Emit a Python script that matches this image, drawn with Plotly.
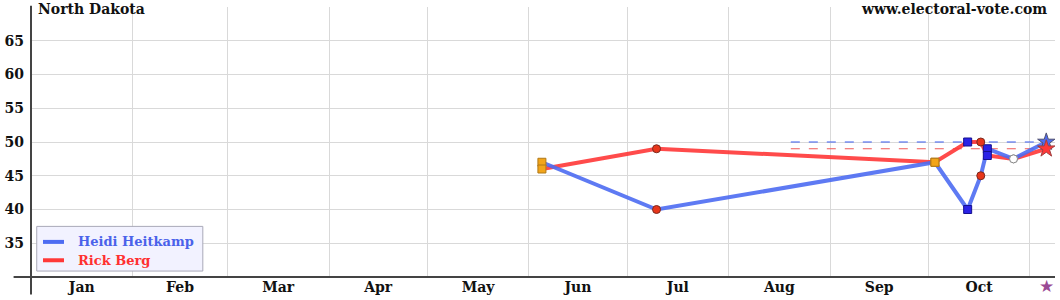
import plotly.graph_objects as go

# ---- data ----
poll_dates = ["2012-06-05", "2012-07-10", "2012-10-03", "2012-10-13",
              "2012-10-17", "2012-10-19", "2012-10-27"]
heitkamp = [47, 40, 47, 40, 45, 49, 47.5]
berg = [46, 49, 47, 50, 50, 48, 47.5]
poll_kind = ["tie", "berg", "tie", "heit", "berg", "heit", "even"]

candidates = ["Heidi Heitkamp", "Rick Berg"]

election_date = "2012-11-06"
result_heitkamp = 50
result_berg = 49
ref_start = "2012-08-20"

x_range = ["2012-01-01", "2012-11-08 16:00"]
y_range = [30, 70]

BLUE = "#4d6cf2"
RED = "#ff3838"
FONT = "DejaVu Serif"

kind_fill = {"tie": "#f2a51a", "berg": "#e8361a", "heit": "#2a22e6", "even": "#ffffff"}
kind_line = {"tie": "#b07818", "berg": "#7a2a20", "heit": "#141090", "even": "#8a8a8a"}
kind_sym = {"tie": "square", "berg": "circle", "heit": "square", "even": "circle"}

fig = go.Figure()

# reference (final result) dashed lines
fig.add_trace(go.Scatter(x=[ref_start, election_date], y=[result_heitkamp] * 2,
                         mode="lines", line=dict(color="#3a5cf0", width=1.2, dash="dash"),
                         showlegend=False, hoverinfo="skip"))
fig.add_trace(go.Scatter(x=[ref_start, election_date], y=[result_berg] * 2,
                         mode="lines", line=dict(color="#f05a5a", width=1.2, dash="dash"),
                         showlegend=False, hoverinfo="skip"))

# candidate lines
fig.add_trace(go.Scatter(x=poll_dates + [election_date], y=berg + [result_berg],
                         mode="lines", line=dict(color=RED, width=4), opacity=0.9,
                         name=candidates[1], showlegend=False))
fig.add_trace(go.Scatter(x=poll_dates + [election_date], y=heitkamp + [result_heitkamp],
                         mode="lines", line=dict(color=BLUE, width=4), opacity=0.9,
                         name=candidates[0], showlegend=False))

# poll markers
for series in (heitkamp, berg):
    fig.add_trace(go.Scatter(
        x=poll_dates, y=series, mode="markers", showlegend=False, hoverinfo="skip",
        marker=dict(size=8,
                    symbol=[kind_sym[k] for k in poll_kind],
                    color=[kind_fill[k] for k in poll_kind],
                    line=dict(color=[kind_line[k] for k in poll_kind], width=1))))

# election result stars
fig.add_trace(go.Scatter(x=[election_date], y=[result_heitkamp], mode="markers",
                         showlegend=False, hoverinfo="skip",
                         marker=dict(symbol="star", size=13, color=BLUE,
                                     line=dict(color="#505070", width=1))))
fig.add_trace(go.Scatter(x=[election_date], y=[result_berg], mode="markers",
                         showlegend=False, hoverinfo="skip",
                         marker=dict(symbol="star", size=13, color=RED,
                                     line=dict(color="#a04040", width=1))))

# election day star under axis
fig.add_annotation(x=election_date, y=-0.034, xref="x", yref="paper", text="★",
                   showarrow=False, font=dict(family=FONT, size=17, color="#9a4a94"),
                   yanchor="middle")

# frame lines
fig.add_shape(type="line", xref="paper", yref="paper", x0=-0.017, x1=1, y0=0, y1=0,
              line=dict(color="#444444", width=2))
fig.add_shape(type="line", xref="paper", yref="paper", x0=0, x1=0, y0=-0.065, y1=1.005,
              line=dict(color="#444444", width=2))

# custom legend
fig.add_shape(type="rect", xref="paper", yref="paper", x0=0.0056, x1=0.1678,
              y0=0.022, y1=0.1875, fillcolor="#f2f2ff",
              line=dict(color="#a8a8b8", width=1), layer="above")
legend_rows = [(candidates[0], BLUE, "#4a62ea", 0.13), (candidates[1], RED, "#ff3030", 0.062)]
for label, lcol, tcol, yy in legend_rows:
    fig.add_shape(type="line", xref="paper", yref="paper", x0=0.0117, x1=0.0322,
                  y0=yy, y1=yy, line=dict(color=lcol, width=4), layer="above")
    fig.add_annotation(x=0.0435, y=yy, xref="paper", yref="paper", text=f"<b>{label}</b>",
                       showarrow=False, xanchor="left", yanchor="middle",
                       font=dict(family=FONT, size=13, color=tcol))

fig.add_annotation(x=0.005, y=1.03, xref="paper", yref="paper", text="<b>North Dakota</b>",
                   showarrow=False, xanchor="left", yanchor="top",
                   font=dict(family=FONT, size=14, color="#111111"))
fig.add_annotation(x=0.994, y=1.03, xref="paper", yref="paper",
                   text="<b>www.electoral-vote.com</b>",
                   showarrow=False, xanchor="right", yanchor="top",
                   font=dict(family=FONT, size=14, color="#111111"))

fig.update_layout(
    width=1060, height=300,
    margin=dict(l=30, r=5, t=7, b=21),
    plot_bgcolor="white", paper_bgcolor="white",
    font=dict(family=FONT, size=14, color="#111111"),
    showlegend=False,
    xaxis=dict(type="date", range=x_range, dtick="M1", tick0="2012-01-01",
               tickformat="%b", ticklabelmode="period", showgrid=True,
               gridcolor="#d9d9d9", gridwidth=1, showline=False, zeroline=False,
               ticks="", tickfont=dict(family=FONT, size=14, weight="bold")),
    yaxis=dict(range=y_range, showgrid=True, gridcolor="#d9d9d9",
               gridwidth=1, showline=False, zeroline=False, ticks="",
               ticklabelstandoff=6,
               tickfont=dict(family=FONT, size=14, weight="bold"),
               tickvals=[35, 40, 45, 50, 55, 60, 65]),
)

fig.write_html("out.html")
